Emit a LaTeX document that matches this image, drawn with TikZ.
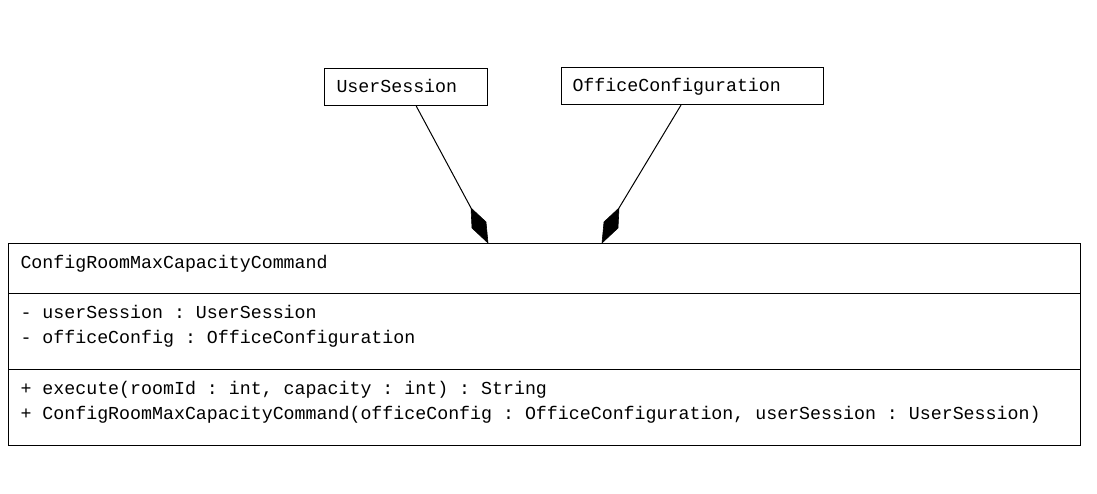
\documentclass[tikz,border=0pt]{standalone}
\usepackage{fontspec}
\setmonofont{Liberation Mono}
\begin{document}
\begin{tikzpicture}[x=1pt,y=-1pt,line width=1pt,
  cls/.style={draw, rectangle, inner sep=0pt, anchor=north west},
  txt/.style={inner sep=0pt, anchor=base west, font=\ttfamily\fontsize{18.28}{22}\selectfont},
  compdiamond/.style={fill=black, draw=black, line width=0.6pt, line join=miter}]
\useasboundingbox (0,0) rectangle (1097,494);
% boxes
\node[cls, minimum width=163pt, minimum height=37pt] (us) at (324,68) {};
\node[cls, minimum width=262pt, minimum height=37pt] (oc) at (561,67) {};
\node[cls, minimum width=1072pt, minimum height=202pt] (main) at (8,243) {};
\draw (8,293) -- (1080,293);
\draw (8,369) -- (1080,369);
% texts
\node[txt] (usT) at (336,93) {UserSession};
\node[txt] (ocT) at (572,92) {OfficeConfiguration};
\node[txt] (title) at (20,268.5) {ConfigRoomMaxCapacityCommand};
\node[txt] (a1) at (20,318.5) {- userSession : UserSession};
\node[txt] (a2) at (20,343.5) {- officeConfig : OfficeConfiguration};
\node[txt] (m1) at (20,394) {+ execute(roomId : int, capacity : int) : String};
\node[txt] (m2) at (20,419) {+ ConfigRoomMaxCapacityCommand(officeConfig : OfficeConfiguration, userSession : UserSession)};
% composition connectors
\coordinate (t1) at (471,208);
\coordinate (t2) at (619,208);
\draw (us) -- (t1);
\draw (oc) -- (t2);
\filldraw[compdiamond] (t1) -- (486,222) -- (488,243) -- (472,228) -- cycle;
\filldraw[compdiamond] (t2) -- (604,222) -- (602,243) -- (618,228) -- cycle;
\end{tikzpicture}
\end{document}
